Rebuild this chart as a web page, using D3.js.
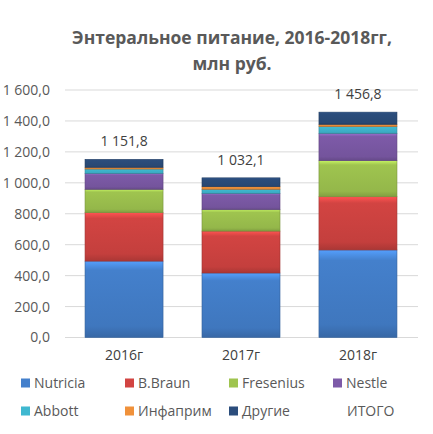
<!DOCTYPE html>
<html>
<head>
<meta charset="utf-8">
<script src="https://cdn.jsdelivr.net/npm/d3@7"></script>
<style>
  body { margin: 0; background: #fff; }
  text { font-family: "Open Sans", "Noto Sans", sans-serif; }
</style>
</head>
<body>
<svg id="chart" width="433" height="434"></svg>
<script>
// данные
const years = ["2016г", "2017г", "2018г"];
const seriesNames = ["Nutricia", "B.Braun", "Fresenius", "Nestle", "Abbott", "Инфаприм", "Другие"];
const nutricia = [494, 417, 566];
const bbraun = [313, 271, 344];
const fresenius = [151, 138, 233];
const nestle = [103, 106, 177];
const abbott = [28, 26, 43];
const infaprim = [11, 17, 15];
const others = [51.8, 57.1, 78.8];
const totals = [1151.8, 1032.1, 1456.8];
const yTicks = [0, 200, 400, 600, 800, 1000, 1200, 1400, 1600];
const colors = ["#4480cc", "#d24442", "#9fc44f", "#7d5aa8", "#3fb8d0", "#f0913a", "#2b4d7c"];

const values = [nutricia, bbraun, fresenius, nestle, abbott, infaprim, others];
const rows = years.map((y, i) => {
  const r = { year: y };
  seriesNames.forEach((s, k) => r[s] = values[k][i]);
  return r;
});

const svg = d3.select("#chart");
const fmt = v => d3.format(",.1f")(v).replace(/,/g, " ").replace(".", ",");

const x = d3.scaleBand().domain(years).range([65.5, 416.5]).paddingInner(0.333).paddingOuter(0.167);
const y = d3.scaleLinear().domain([0, 1600]).range([337.5, 90]);

// градиенты для эффекта фаски
const defs = svg.append("defs");
colors.forEach((c, i) => {
  const g = defs.append("linearGradient").attr("id", "grad" + i)
    .attr("x1", 0).attr("y1", 0).attr("x2", 0).attr("y2", 1);
  g.append("stop").attr("offset", "0%").attr("stop-color", d3.color(c).brighter(0.6));
  g.append("stop").attr("offset", "12%").attr("stop-color", c);
  g.append("stop").attr("offset", "85%").attr("stop-color", d3.color(c).darker(0.2));
  g.append("stop").attr("offset", "100%").attr("stop-color", d3.color(c).darker(0.6));
});

// Заголовок
svg.append("text").attr("x", 232).attr("y", 44).attr("text-anchor", "middle")
  .attr("font-size", "17.5px").attr("font-weight", "bold").attr("fill", "#595959")
  .text("Энтеральное  питание, 2016-2018гг,");
svg.append("text").attr("x", 232).attr("y", 70).attr("text-anchor", "middle")
  .attr("font-size", "17.5px").attr("font-weight", "bold").attr("fill", "#595959")
  .text("млн руб.");

// сетка
svg.append("g").selectAll("line").data(yTicks).enter().append("line")
  .attr("x1", 65).attr("x2", 418)
  .attr("y1", d => y(d)).attr("y2", d => y(d))
  .attr("stroke", "#d9d9d9").attr("stroke-width", 1);

// ось Y
const yAxis = svg.append("g").attr("transform", "translate(53,0)")
  .call(d3.axisLeft(y).tickValues(yTicks).tickSize(0).tickFormat(fmt));
yAxis.select(".domain").remove();
yAxis.selectAll("text").attr("font-size", "14px").attr("fill", "#595959")
  .style("font-family", "'Open Sans', sans-serif");

// ось X
const xAxis = svg.append("g").attr("transform", "translate(0,338)")
  .call(d3.axisBottom(x).tickSize(0).tickPadding(12));
xAxis.select(".domain").remove();
xAxis.selectAll("text").attr("font-size", "14px").attr("fill", "#404040")
  .style("font-family", "'Open Sans', sans-serif");

// столбцы
const stack = d3.stack().keys(seriesNames)(rows);
const layers = svg.append("g").selectAll("g").data(stack).enter().append("g")
  .attr("fill", (d, i) => "url(#grad" + i + ")")
  .attr("stroke", (d, i) => d3.color(colors[i]).darker(0.8))
  .attr("stroke-width", 0.6);
layers.selectAll("rect").data(d => d).enter().append("rect")
  .attr("x", d => x(d.data.year))
  .attr("y", d => y(d[1]))
  .attr("width", x.bandwidth())
  .attr("height", d => y(d[0]) - y(d[1]));

// ИТОГО
svg.append("g").selectAll("text").data(totals).enter().append("text")
  .attr("x", (d, i) => x(years[i]) + x.bandwidth() / 2)
  .attr("y", d => y(d) - 13)
  .attr("text-anchor", "middle")
  .attr("font-size", "14px").attr("fill", "#404040")
  .text(d => fmt(d));

// легенда
const legendItems = seriesNames.concat(["ИТОГО"]);
const lg = svg.append("g").selectAll("g").data(legendItems).enter().append("g")
  .attr("transform", (d, i) => `translate(${21 + (i % 4) * 104},${383 + Math.floor(i / 4) * 28})`);
lg.filter((d, i) => i < 7).append("rect")
  .attr("x", 0).attr("y", -4.5).attr("width", 9).attr("height", 9)
  .attr("fill", (d, i) => colors[i]);
lg.append("text")
  .attr("x", (d, i) => i < 7 ? 13 : 14)
  .attr("y", 5)
  .attr("font-size", "14px").attr("fill", "#595959")
  .text(d => d);
</script>
</body>
</html>
